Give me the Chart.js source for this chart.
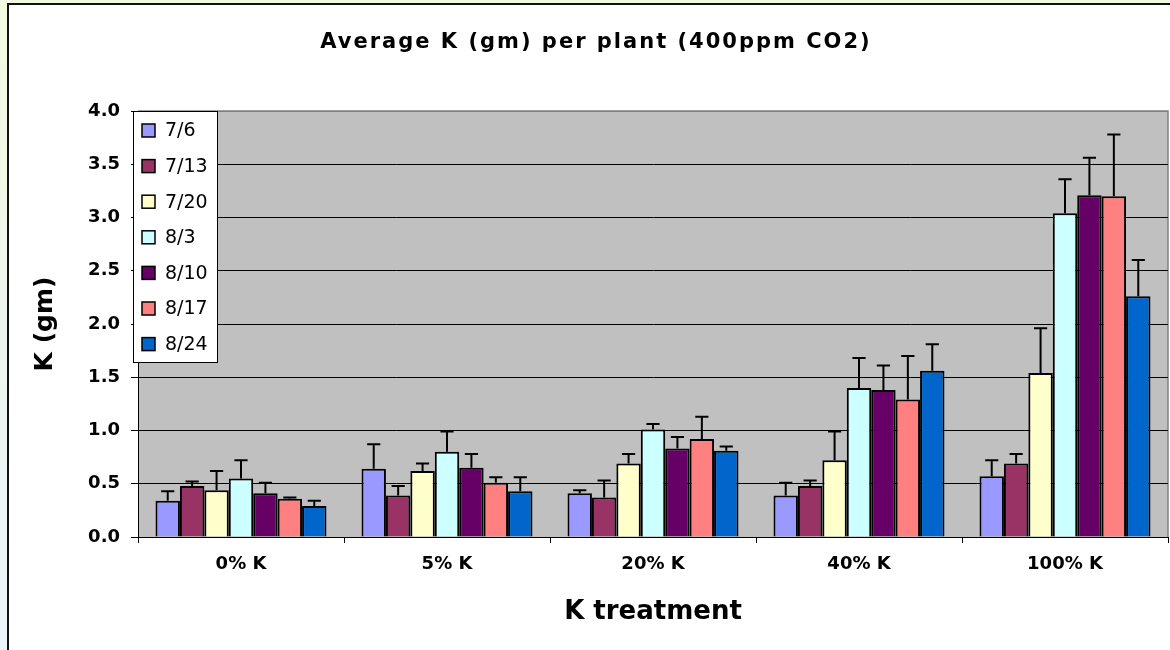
<!DOCTYPE html>
<html><head><meta charset="utf-8">
<script src="https://cdn.jsdelivr.net/npm/chart.js@4.4.0/dist/chart.umd.min.js"></script>
<style>
html,body{margin:0;padding:0;width:1170px;height:650px;overflow:hidden;background:linear-gradient(#f1f9e0,#eaf4fb);}
#wrap{position:absolute;left:0;top:0;width:1170px;height:650px;}
canvas{display:block;}
</style></head><body>
<div id="wrap"><canvas id="c" width="1170" height="650"></canvas></div>
<script>
// ---- data ----
const categories = ['0% K', '5% K', '20% K', '40% K', '100% K'];
const seriesLabels = ['7/6', '7/13', '7/20', '8/3', '8/10', '8/17', '8/24'];

const v_7_6  = [0.34, 0.64, 0.41, 0.39, 0.57];
const v_7_13 = [0.48, 0.39, 0.37, 0.48, 0.69];
const v_7_20 = [0.44, 0.62, 0.69, 0.72, 1.54];
const v_8_3  = [0.55, 0.80, 1.01, 1.40, 3.04];
const v_8_10 = [0.41, 0.65, 0.83, 1.38, 3.21];
const v_8_17 = [0.36, 0.51, 0.92, 1.29, 3.20];
const v_8_24 = [0.29, 0.43, 0.81, 1.56, 2.26];

const e_7_6  = [0.09, 0.23, 0.03, 0.12, 0.15];
const e_7_13 = [0.04, 0.09, 0.16, 0.05, 0.09];
const e_7_20 = [0.18, 0.07, 0.09, 0.27, 0.42];
const e_8_3  = [0.17, 0.19, 0.05, 0.28, 0.32];
const e_8_10 = [0.10, 0.13, 0.11, 0.23, 0.35];
const e_8_17 = [0.01, 0.05, 0.21, 0.41, 0.58];
const e_8_24 = [0.05, 0.13, 0.04, 0.25, 0.34];

const yTickLabels = ['0.0', '0.5', '1.0', '1.5', '2.0', '2.5', '3.0', '3.5', '4.0'];
const chartTitle = 'Average K (gm) per plant (400ppm CO2)';
const xTitle = 'K treatment';
const yTitle = 'K (gm)';

// ---- styles ----
const seriesValues = [v_7_6, v_7_13, v_7_20, v_8_3, v_8_10, v_8_17, v_8_24];
const seriesErrors = [e_7_6, e_7_13, e_7_20, e_8_3, e_8_10, e_8_17, e_8_24];
const seriesColors = ['#9999FF', '#993366', '#FFFFCC', '#CCFFFF', '#660066', '#FF8080', '#0066CC'];
const FONT = 'DejaVu Sans';

const datasets = seriesLabels.map((lab, i) => ({
  label: lab,
  data: seriesValues[i],
  errorPlus: seriesErrors[i],
  backgroundColor: seriesColors[i],
  borderColor: '#000',
  borderWidth: 2,
  categoryPercentage: 0.83,
  barPercentage: 1.0
}));

const frameAndBg = {
  id: 'frameAndBg',
  afterLayout(chart) {
    const tb = chart.titleBlock;
    if (tb && !tb._spaced) {
      const orig = tb.draw.bind(tb);
      tb.draw = function (area) {
        const ctx = this.ctx;
        ctx.save();
        try { ctx.letterSpacing = '2px'; } catch (e) {}
        orig(area);
        ctx.restore();
      };
      tb._spaced = true;
    }
  },
  beforeDraw(chart) {
    const ctx = chart.ctx, a = chart.chartArea;
    ctx.save();
    ctx.fillStyle = '#fff';
    ctx.fillRect(8, 4, chart.width - 8, chart.height - 4);
    ctx.strokeStyle = '#111';
    ctx.lineWidth = 2;
    ctx.beginPath();
    ctx.moveTo(8, chart.height); ctx.lineTo(8, 4); ctx.lineTo(chart.width, 4);
    ctx.stroke();
    ctx.fillStyle = '#C0C0C0';
    ctx.fillRect(a.left, a.top, a.right - a.left, a.bottom - a.top);
    ctx.strokeStyle = '#808080';
    ctx.lineWidth = 1.5;
    ctx.beginPath();
    ctx.moveTo(a.left, a.top); ctx.lineTo(a.right, a.top); ctx.lineTo(a.right, a.bottom);
    ctx.stroke();
    ctx.restore();
  }
};

const errorBars = {
  id: 'errorBars',
  afterDatasetsDraw(chart) {
    const ctx = chart.ctx, ys = chart.scales.y;
    ctx.save();
    ctx.strokeStyle = '#000';
    ctx.lineWidth = 2;
    chart.data.datasets.forEach((ds, di) => {
      const meta = chart.getDatasetMeta(di);
      meta.data.forEach((el, i) => {
        const v = ds.data[i], e = ds.errorPlus[i];
        const yTop = ys.getPixelForValue(v + e);
        const yBar = ys.getPixelForValue(v);
        const half = el.width * 0.27;
        ctx.beginPath();
        ctx.moveTo(el.x, yBar); ctx.lineTo(el.x, yTop);
        ctx.moveTo(el.x - half, yTop); ctx.lineTo(el.x + half, yTop);
        ctx.stroke();
      });
    });
    ctx.restore();
  }
};

const boxLegend = {
  id: 'boxLegend',
  afterDraw(chart) {
    const ctx = chart.ctx, a = chart.chartArea;
    const lx = a.left - 5, ly = a.top, lw = 84, lh = 251, step = 35.6;
    ctx.save();
    ctx.fillStyle = '#fff';
    ctx.fillRect(lx, ly, lw, lh);
    ctx.strokeStyle = '#000';
    ctx.lineWidth = 1;
    ctx.strokeRect(lx + 0.5, ly + 0.5, lw, lh);
    ctx.font = '19px "' + FONT + '"';
    ctx.textBaseline = 'middle';
    ctx.textAlign = 'left';
    chart.data.datasets.forEach((ds, i) => {
      const cy = ly + 19.5 + i * step;
      ctx.fillStyle = ds.backgroundColor;
      ctx.fillRect(lx + 9, cy - 6.5, 13, 13);
      ctx.lineWidth = 1.5;
      ctx.strokeStyle = '#000';
      ctx.strokeRect(lx + 9, cy - 6.5, 13, 13);
      ctx.fillStyle = '#000';
      ctx.fillText(ds.label, lx + 32, cy + 1);
    });
    ctx.restore();
  }
};

new Chart(document.getElementById('c'), {
  type: 'bar',
  data: { labels: categories, datasets },
  plugins: [frameAndBg, errorBars, boxLegend],
  options: {
    responsive: false,
    animation: false,
    devicePixelRatio: 1,
    layout: { padding: { left: 24, right: 2, top: 0, bottom: 0 } },
    plugins: {
      legend: { display: false },
      tooltip: { enabled: false },
      title: {
        display: true, text: chartTitle, color: '#000',
        font: { family: FONT, size: 21, weight: 'bold' },
        padding: { top: 30, bottom: 55.8 }
      }
    },
    scales: {
      x: {
        grid: { offset: true, drawOnChartArea: false, drawTicks: true, tickLength: 6, color: '#000' },
        border: { color: '#000', width: 1 },
        ticks: { color: '#000', padding: 11, font: { family: FONT, size: 18, weight: 'bold' } },
        title: { display: true, text: xTitle, color: '#000', font: { family: FONT, size: 26, weight: 'bold' }, padding: { top: 0, bottom: 22 } },
        afterFit(s) { s.height = 113; }
      },
      y: {
        min: 0, max: 4,
        ticks: {
          stepSize: 0.5, color: '#000', padding: 11,
          font: { family: FONT, size: 18, weight: 'bold' },
          callback: (v, i) => yTickLabels[i]
        },
        grid: {
          color: c => (c.tick && c.tick.value === 4) ? '#808080' : '#000',
          tickColor: '#000', tickLength: 7, lineWidth: 1
        },
        border: { color: '#000', width: 1 },
        title: { display: true, text: yTitle, color: '#000', font: { family: FONT, size: 25, weight: 'bold' }, padding: { top: 6, bottom: 0 } },
        afterFit(s) { s.width = 114; }
      }
    }
  }
});
</script>
</body></html>
